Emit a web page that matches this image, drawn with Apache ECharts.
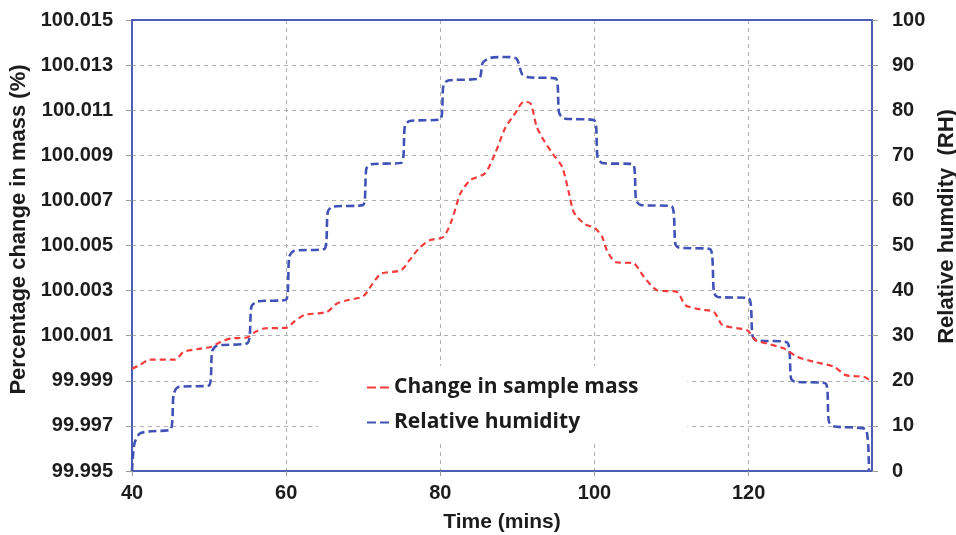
<!DOCTYPE html>
<html>
<head>
<meta charset="utf-8">
<script src="https://cdn.jsdelivr.net/npm/echarts@6/dist/echarts.min.js"></script>
<style>
html,body{margin:0;padding:0;background:#fff;}
#chart{width:956px;height:535px;}
</style>
</head>
<body>
<div id="chart"></div>
<script>
// ---- Data ----
const massTime = [40.0,41.0,42.3,45.6,46.7,48.9,50.2,51.5,52.8,54.9,56.0,57.1,60.1,61.0,62.3,65.3,66.6,67.9,70.0,71.2,72.3,74.9,76.0,77.3,78.7,80.4,81.5,82.6,83.9,85.8,87.1,88.4,89.7,90.8,91.7,92.5,93.4,94.7,95.8,96.7,97.3,98.6,100.1,101.0,101.6,102.7,105.1,106.4,108.1,110.7,111.8,113.8,115.5,116.6,119.8,120.9,122.4,124.6,126.3,128.5,131.1,132.6,135.0,135.9];
const massValues = [99.99954,99.99969,99.99994,99.99994,100.00028,100.00043,100.00050,100.00072,100.00088,100.00092,100.00117,100.00132,100.00136,100.00161,100.00191,100.00206,100.00243,100.00257,100.00275,100.00330,100.00375,100.00390,100.00435,100.00490,100.00524,100.00538,100.00613,100.00731,100.00790,100.00820,100.00908,100.01020,100.01086,100.01137,100.01130,100.01027,100.00968,100.00901,100.00849,100.00731,100.00649,100.00598,100.00576,100.00538,100.00479,100.00427,100.00420,100.00361,100.00302,100.00294,100.00235,100.00216,100.00206,100.00147,100.00124,100.00080,100.00065,100.00043,100.00006,99.99984,99.99962,99.99925,99.99917,99.99898];

const rhTime = [40.0,40.3,41.0,42.5,45.0,45.4,46.0,50.0,50.4,51.0,55.0,55.5,56.3,60.0,60.4,61.0,65.0,65.4,66.0,70.0,70.4,71.0,75.0,75.4,76.0,80.0,80.4,81.0,85.0,85.5,86.5,88.5,89.9,90.6,91.5,95.0,95.4,96.0,100.0,100.4,101.0,105.0,105.4,106.0,110.0,110.5,111.0,115.0,115.5,116.0,120.0,120.5,121.0,125.0,125.5,126.0,130.0,130.4,131.0,135.2,135.6];
const rhValues = [0,6,8.3,8.8,9.2,17,18.6,19.0,26.5,27.8,28.4,36.5,37.6,38.0,47.5,48.8,49.3,57.5,58.6,59.0,67,68.0,68.4,76.5,77.6,78.0,85.5,86.6,87.0,90.5,91.6,91.8,91.4,88.0,87.3,87.0,79.5,78.2,77.7,69.5,68.3,68.0,60,59.0,58.7,50.2,49.5,49.2,39.5,38.6,38.3,30,29.0,28.5,20.5,19.8,19.4,11,9.9,9.2,0.2];

const seriesNames = ['Change in sample mass', 'Relative humidity'];
const xName = 'Time (mins)';
const yLeftName = 'Percentage change in mass (%)';
const yRightName = 'Relative humdity  (RH)';

// ---- Styling ----
const axisBlue = '#4a5cb4';
const redCol = '#f53c3c';
const blueCol = '#4052b5';
const textCol = '#1c1c1c';
const labelFont = {fontFamily: '"Liberation Sans", Arial, sans-serif', fontWeight: 'bold', fontSize: 20, color: textCol};
const nameFont = {fontFamily: '"Liberation Sans", Arial, sans-serif', fontWeight: 'bold', fontSize: 21, color: textCol};
const gridLine = {show: true, lineStyle: {color: '#b0b0b0', type: [4, 4], width: 1}};
const dashIcon = 'path://M0,0h9v2h-9z M13,0h9v2h-9z';

const chart = echarts.init(document.getElementById('chart'), null, {renderer: 'canvas'});
chart.setOption({
  animation: false,
  backgroundColor: '#fff',
  grid: {left: 132, right: 84, top: 20, bottom: 64, show: false, outerBoundsMode: 'none'},
  legend: {
    orient: 'vertical',
    left: 318, top: 366,
    padding: [10, 49, 10, 49],
    backgroundColor: '#fff',
    itemWidth: 22, itemHeight: 3, itemGap: 12,
    textStyle: {fontFamily: '"Open Sans", Lato, sans-serif', fontWeight: 'bold', fontSize: 21, lineHeight: 23, color: textCol},
    data: [
      {name: seriesNames[0], icon: dashIcon, itemStyle: {color: redCol}},
      {name: seriesNames[1], icon: dashIcon, itemStyle: {color: blueCol}}
    ]
  },
  xAxis: [{
    type: 'value', min: 40, max: 136, interval: 20,
    name: xName, nameLocation: 'middle', nameGap: 41, nameTextStyle: nameFont,
    axisLine: {show: true, lineStyle: {color: axisBlue, width: 2}},
    axisTick: {show: true, length: 5, lineStyle: {color: '#999'}},
    axisLabel: Object.assign({margin: 12, showMaxLabel: false}, labelFont),
    splitLine: gridLine
  }, {
    type: 'value', min: 40, max: 136, position: 'top', z: 5,
    axisLine: {show: true, lineStyle: {color: axisBlue, width: 2}},
    axisTick: {show: false}, axisLabel: {show: false}, splitLine: {show: false}
  }],
  yAxis: [{
    type: 'value', min: 99.995, max: 100.015, interval: 0.002,
    name: yLeftName, nameLocation: 'middle', nameGap: 92, nameRotate: 90,
    nameTextStyle: Object.assign({}, nameFont, {fontSize: 22, padding: [0, 0, 0, 32]}),
    axisLine: {show: true, lineStyle: {color: axisBlue, width: 2}},
    axisTick: {show: true, length: 6, lineStyle: {color: '#999'}},
    axisLabel: Object.assign({margin: 19, formatter: v => v.toFixed(3)}, labelFont),
    splitLine: gridLine
  }, {
    type: 'value', min: 0, max: 100, interval: 10, position: 'right', z: 5,
    name: yRightName, nameLocation: 'middle', nameGap: 54, nameRotate: 90,
    nameTextStyle: Object.assign({}, nameFont, {fontSize: 22, padding: [0, 0, 0, 38]}),
    axisLine: {show: true, lineStyle: {color: axisBlue, width: 2}},
    axisTick: {show: true, length: 6, lineStyle: {color: '#999'}},
    axisLabel: Object.assign({margin: 20}, labelFont),
    splitLine: {show: false}
  }],
  series: [{
    name: seriesNames[0], type: 'line', yAxisIndex: 0,
    data: massTime.map((t, i) => [t, massValues[i]]),
    showSymbol: false, symbol: 'none', smooth: 0.25,
    lineStyle: {color: redCol, width: 2.2, type: [6, 4]},
    itemStyle: {color: redCol}, z: 3
  }, {
    name: seriesNames[1], type: 'line', yAxisIndex: 1,
    data: rhTime.map((t, i) => [t, rhValues[i]]),
    showSymbol: false, symbol: 'none', smooth: 0.25,
    lineStyle: {color: blueCol, width: 2.6, type: [8, 4]},
    itemStyle: {color: blueCol}, z: 2
  }]
});
</script>
</body>
</html>
